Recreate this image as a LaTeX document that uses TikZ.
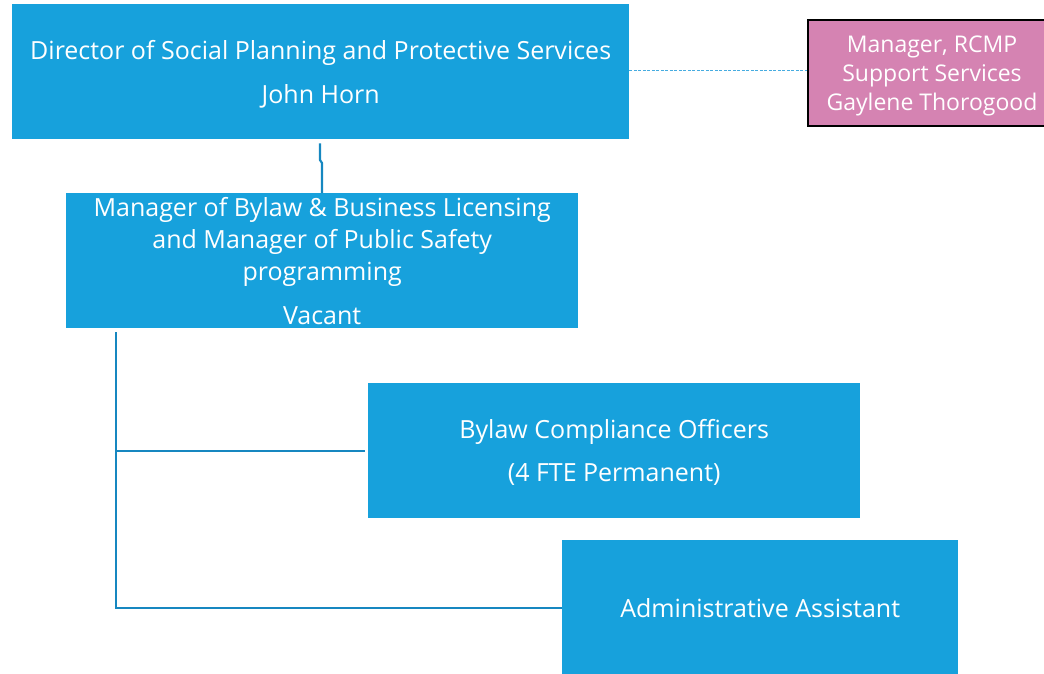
\documentclass[tikz,border=0pt]{standalone}
\usepackage{fontspec}
\setmainfont{Open Sans}
\definecolor{boxblue}{RGB}{23,161,220}
\definecolor{linkblue}{RGB}{22,135,192}
\definecolor{dashblue}{RGB}{70,172,224}
\definecolor{pinkfill}{RGB}{213,131,178}
\begin{document}
\begin{tikzpicture}[x=1pt,y=-1pt,
  orgbox/.style={fill=boxblue, draw=none, inner sep=0pt, anchor=north west},
  orgtext/.style={text=white, inner sep=0pt, align=center, font=\fontsize{25}{32}\selectfont},
  pinkbox/.style={fill=pinkfill, draw=black, line width=2pt, inner sep=0pt, anchor=north west},
  pinktext/.style={text=white, inner sep=0pt, align=center, font=\fontsize{23}{29}\selectfont},
  link/.style={draw=linkblue, line width=2.2pt},
  dotlink/.style={draw=dashblue, line width=1pt, dash pattern=on 3pt off 1.5pt}]
\useasboundingbox (0,0) rectangle (1044,673);
\node[orgbox, minimum width=617pt, minimum height=135pt] (dir) at (12,4) {};
\node[orgtext] (dirt) at ([yshift=-3pt]dir.center)
  {Director of Social Planning and Protective Services\\[12pt]John Horn};
\node[pinkbox, minimum width=250pt, minimum height=106pt] (rcmp) at (807,19) {};
\node[pinktext] (rcmpt) at ([xshift=-1pt,yshift=-3pt]rcmp.center)
  {Manager, RCMP\\Support Services\\Gaylene Thorogood};
\node[orgbox, minimum width=512pt, minimum height=135pt] (mgr) at (66,193) {};
\node[orgtext] (mgrt) at (mgr.center)
  {Manager of Bylaw \& Business Licensing\\and Manager of Public Safety\\programming\\[12pt]Vacant};
\node[orgbox, minimum width=492pt, minimum height=135pt] (bco) at (368,383) {};
\node[orgtext] (bcot) at ([yshift=-2pt]bco.center)
  {Bylaw Compliance Officers\\[11pt](4 FTE Permanent)};
\node[orgbox, minimum width=396pt, minimum height=135pt] (adm) at (562,540) {};
\node[orgtext] (admt) at (adm.center) {Administrative Assistant};
\coordinate (j1) at (320,160);
\coordinate (j2) at (322,163);
\draw[dotlink] (dir.east |- 0,70) -- (rcmp.west |- 0,70);
\draw[link] (dir.south -| j1) ++(0,4) -- (j1) -- (j2) -- (j2 |- mgr.north);
\coordinate (trunk) at (116,332);
\draw[link] (trunk |- mgr.south) ++(0,4) -- (trunk |- adm.west) -- (adm.west);
\draw[link] (trunk |- bco.west) -- ([xshift=-3pt]bco.west);
\end{tikzpicture}
\end{document}
